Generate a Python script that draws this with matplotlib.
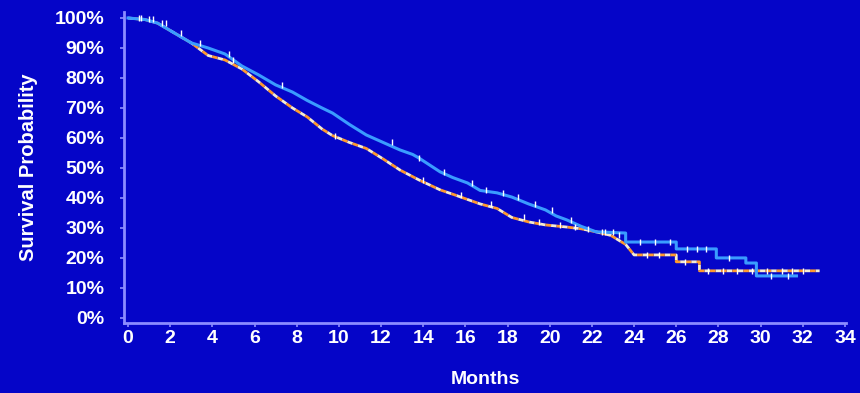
import numpy as np
import matplotlib
matplotlib.use("Agg")
import matplotlib.pyplot as plt

# Survival curves (months, survival %)
# repeated months = visible vertical drops in the tail
blue_t = [0, 0.8, 1.4, 2.2, 3.0, 3.8, 4.6, 5.4, 6.2, 7.0, 7.8, 8.5, 9.2, 9.7,
          10.5, 11.3, 12.1, 12.9, 13.5, 13.8, 14.3, 14.8, 15.4, 16.1, 16.7,
          17.5, 18.2, 19.0, 19.8, 20.3, 20.8, 21.5, 22.2, 23.6, 23.6, 26.0,
          26.0, 27.9, 27.9, 29.3, 29.3, 29.8, 29.8, 31.7]
blue_s = [100, 99.5, 98.3, 95, 91.7, 90, 88, 84, 81, 77.7, 75.3, 72.5, 70, 68.3,
          64.5, 61, 58.5, 56, 54.5, 53.3, 51, 48.7, 46.8, 45, 42.5,
          41.7, 40.3, 38, 36, 34, 32.7, 30.5, 28.7, 28.3, 25.3, 25.3,
          23, 23, 20, 20, 18.3, 18.3, 14, 14]

orange_t = [0, 0.8, 1.4, 2.2, 3.0, 3.8, 4.6, 5.4, 6.2, 7.0, 7.8, 8.5, 9.2, 9.7,
            10.5, 11.3, 12.1, 12.9, 13.8, 14.8, 15.5, 16.1, 16.7, 17.5, 18.2,
            19.0, 19.8, 20.8, 21.5, 22.2, 22.9, 23.6, 24.0, 26.0, 26.0, 27.1,
            27.1, 32.8]
orange_s = [100, 99.5, 98.3, 95, 91.7, 87.5, 86, 83, 78.7, 74, 70, 67, 63, 60.8,
            58.5, 56.5, 53, 49.3, 46, 42.7, 41, 39.5, 38, 36.5, 33.5,
            32, 31, 30.3, 29.7, 28.7, 27.5, 24.5, 21, 21, 18.7, 18.7,
            15.7, 15.7]

# censoring times
blue_cens = [0.6, 1.2, 1.6, 2.5, 4.8, 7.3, 12.5, 13.8, 15.0, 16.3, 17.0, 17.8,
             18.5, 19.3, 20.1, 21.0, 22.5, 23.0, 24.3, 25.0, 25.7, 26.5, 27.0,
             27.4, 28.5, 30.5, 31.3]
orange_cens = [0.5, 1.0, 1.8, 3.4, 5.0, 9.8, 14.0, 15.8, 17.2, 18.8, 19.5,
               20.5, 21.2, 21.8, 22.6, 23.3, 24.6, 25.2, 26.4, 27.5, 28.2,
               28.9, 29.6, 30.3, 31.0, 31.5, 32.0]

x_ticks = list(range(0, 35, 2))
y_ticks = list(range(0, 101, 10))

bg = '#0505C8'
axis_col = '#8C8CFF'
font = ['Liberation Sans', 'DejaVu Sans']


def curve_value(t, s, x):
    # value of the curve (last point at or before x)
    idx = np.searchsorted(t, x, side='right') - 1
    return np.asarray(s)[idx]


fig = plt.figure(figsize=(8.6, 3.93), dpi=100, facecolor=bg)
ax = fig.add_axes([124 / 860, 70 / 393, 722 / 860, 311 / 393], facecolor=bg)

ax.plot(blue_t, blue_s, color='#3A9CFF', lw=2.2, zorder=3)
ax.plot(orange_t, orange_s, color='#F6EBCF', lw=2,
        linestyle=(0, (2, 2)), zorder=2)
ax.plot(orange_t, orange_s, color='#FF9A2E', lw=2,
        linestyle=(2, (2, 2)), zorder=2)

ax.plot(blue_cens, curve_value(blue_t, blue_s, blue_cens), linestyle='none',
        marker='|', color='white', ms=4.5, mew=1, zorder=4)
ax.plot(orange_cens, curve_value(orange_t, orange_s, orange_cens), linestyle='none',
        marker='|', color='white', ms=4.5, mew=1, zorder=4)

ax.set_xlim(-0.19, 34.05)
ax.set_ylim(-1.7, 102)
ax.set_xticks(x_ticks)
ax.set_yticks(y_ticks)
ax.set_xticklabels([str(v) for v in x_ticks])
ax.set_yticklabels([f'{v}%' for v in y_ticks])

for side in ['top', 'right']:
    ax.spines[side].set_visible(False)
for side in ['left', 'bottom']:
    ax.spines[side].set_color(axis_col)
    ax.spines[side].set_linewidth(2)

ax.tick_params(axis='both', colors=axis_col, direction='out', length=3, width=1.2)
ax.tick_params(axis='y', pad=11)
ax.tick_params(axis='x', pad=2)
for lab in ax.get_xticklabels() + ax.get_yticklabels():
    lab.set_color('white')
    lab.set_fontweight('bold')
    lab.set_fontsize(14)
    lab.set_family(font)

ax.set_xlabel('Months', color='white', fontweight='bold', fontsize=14,
              family=font, labelpad=17)
ax.set_ylabel('Survival Probability', color='white', fontweight='bold',
              fontsize=14.5, family=font, labelpad=12)

fig.savefig('out.png', dpi=100, facecolor=bg)
